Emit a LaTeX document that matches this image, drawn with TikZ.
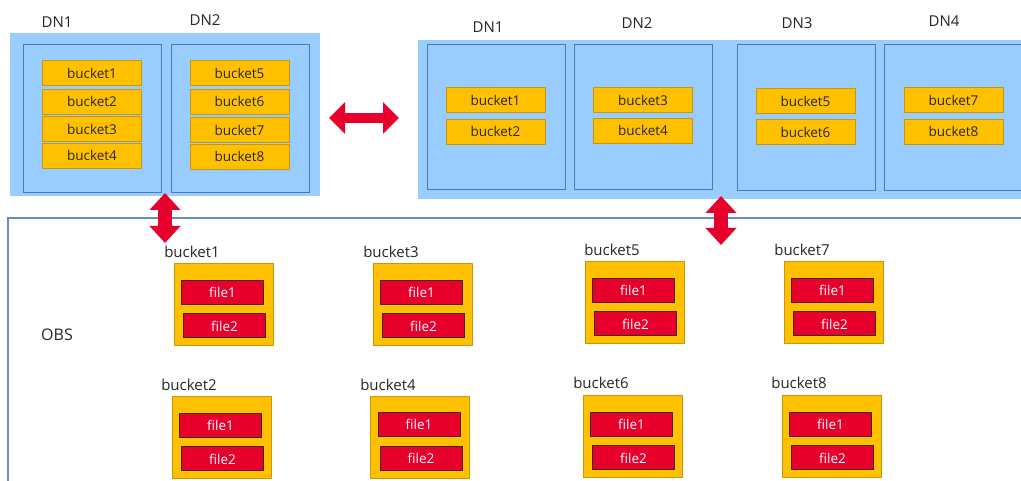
\documentclass[tikz,border=0pt]{standalone}
\usepackage{fontspec}
\setmainfont{Open Sans}
\usetikzlibrary{arrows.meta}
\definecolor{panelblue}{HTML}{99CCFF}
\definecolor{dnline}{HTML}{4F7BA8}
\definecolor{bkfill}{HTML}{FFC000}
\definecolor{bkline}{HTML}{C9960C}
\definecolor{flfill}{HTML}{E8002C}
\definecolor{flline}{HTML}{3A2A2A}
\definecolor{obsline}{HTML}{6A8DB8}
\definecolor{txt}{HTML}{262626}
\tikzset{
  panel/.style={fill=panelblue, draw=none},
  dnbox/.style={draw=dnline, line width=0.9pt, fill=none},
  bk/.style={fill=bkfill, draw=bkline, line width=0.8pt, text=txt, inner sep=0pt,
    minimum width=99pt, minimum height=25pt, font=\fontsize{13.5}{15}\selectfont},
  bkbig/.style={fill=bkfill, draw=bkline, line width=0.9pt, inner sep=0pt,
    minimum width=99pt, minimum height=82pt},
  fl/.style={fill=flfill, draw=flline, line width=1pt, text=white, inner sep=0pt,
    minimum width=82pt, minimum height=24pt, font=\fontsize{13.5}{15}\selectfont},
  lbl/.style={text=txt, inner sep=0pt, font=\fontsize{15}{17}\selectfont},
  blbl/.style={text=txt, inner sep=0pt, font=\fontsize{15}{17}\selectfont},
  darrow/.style={draw=flfill, line width=14pt,
    {Triangle[length=17pt,width=30pt]}-{Triangle[length=17pt,width=30pt]}},
  harrow/.style={draw=flfill, line width=10pt,
    {Triangle[length=16pt,width=31pt]}-{Triangle[length=16pt,width=31pt]}},
}
\begin{document}
\begin{tikzpicture}[x=1pt,y=-1pt]
\useasboundingbox (0,0) rectangle (1021,481);
\begin{scope}
\clip (0,0) rectangle (1021,481);
% OBS frame
\draw[obsline, line width=1.6pt] (8,500) -- (8,218) -- (1040,218);
% left panel
\fill[panel] (10,33) rectangle (320,196);
\draw[dnbox] (23,44) rectangle (161,192);
\draw[dnbox] (171,44) rectangle (309,192);
% right panel
\fill[panel] (418,40) rectangle (1030,199);
\draw[dnbox] (427,44) rectangle (565,189);
\draw[dnbox] (574,44) rectangle (712,189);
\draw[dnbox] (737,44) rectangle (875,190);
\draw[dnbox] (884,44) rectangle (1040,190);
\end{scope}
% labels
\node[lbl] (ldn1) at (57,22) {DN1};
\node[lbl] (ldn2) at (205,20) {DN2};
\node[lbl] (rdn1) at (488,27) {DN1};
\node[lbl] (rdn2) at (637,23) {DN2};
\node[lbl] (rdn3) at (797,23) {DN3};
\node[lbl] (rdn4) at (944,21) {DN4};
\node[lbl, font=\fontsize{16}{18}\selectfont] (obs) at (57,335) {OBS};
% left panel buckets
\node[bk] (la1) at (92,73) {bucket1};
\node[bk] (la2) at (92,101.5) {bucket2};
\node[bk] (la3) at (92,129) {bucket3};
\node[bk] (la4) at (92,155.5) {bucket4};
\node[bk] (la5) at (239.5,73) {bucket5};
\node[bk] (la6) at (239.5,101.5) {bucket6};
\node[bk] (la7) at (239.5,130) {bucket7};
\node[bk] (la8) at (239.5,156.5) {bucket8};
% right panel buckets
\node[bk] (ra1) at (495.5,100) {bucket1};
\node[bk] (ra2) at (495.5,131.5) {bucket2};
\node[bk] (ra3) at (643,100) {bucket3};
\node[bk] (ra4) at (643,130.5) {bucket4};
\node[bk] (ra5) at (805.5,101) {bucket5};
\node[bk] (ra6) at (805.5,132) {bucket6};
\node[bk] (ra7) at (953.5,100) {bucket7};
\node[bk] (ra8) at (953.5,131.5) {bucket8};
% OBS buckets
\foreach \n/\x/\y/\lx/\ly in {1/223.5/304.5/192/252, 3/422.5/304.5/391/252,
  2/221.5/437.5/189/385, 4/420/437/388/385,
  5/634.5/302.5/612/250, 7/833.5/302.5/802/250,
  6/632.5/436.5/601/383, 8/831.5/436.5/799/383}{
  \node[bkbig] (ob\n) at (\x,\y) {};
  \node[blbl] (obl\n) at (\lx,\ly) {bucket\n};
  \node[fl] (of\n a) at ([xshift=-1pt,yshift=-29pt]ob\n.north) {file1};
  \node[fl] (of\n b) at ([xshift=1pt,yshift=20pt]ob\n.south) {file2};
}
% arrows
\coordinate (h1) at (329,118);
\coordinate (h2) at (399,118);
\draw[harrow] (h1) -- (h2);
\coordinate (v1a) at (165,193);
\coordinate (v1b) at (165,243);
\draw[darrow] (v1a) -- (v1b);
\coordinate (v2a) at (721,196);
\coordinate (v2b) at (721,245);
\draw[darrow] (v2a) -- (v2b);
\end{tikzpicture}
\end{document}
